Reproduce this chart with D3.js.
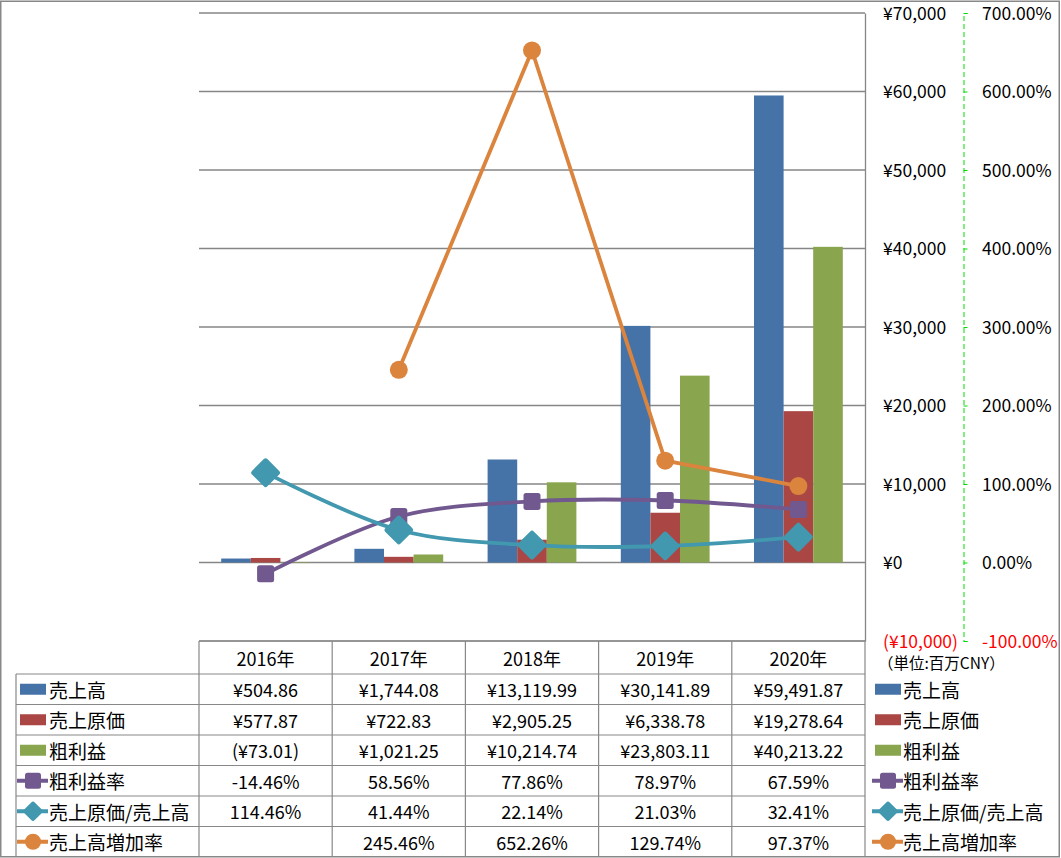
<!DOCTYPE html>
<html><head><meta charset="utf-8">
<script src="https://cdn.jsdelivr.net/npm/d3@7/dist/d3.min.js"></script>
<style>
html,body{margin:0;padding:0;background:#fff;}
svg{display:block;font-family:"Noto Sans CJK JP","Noto Sans",sans-serif;}
</style></head><body>
<svg id="chart" width="1061" height="858"></svg>
<script>
const years = ["2016年","2017年","2018年","2019年","2020年"];
const barSeries = ["売上高","売上原価","粗利益"];
const sales = [504.86, 1744.08, 13119.99, 30141.89, 59491.87];
const cost = [577.87, 722.83, 2905.25, 6338.78, 19278.64];
const gross = [-73.01, 1021.25, 10214.74, 23803.11, 40213.22];
const lineSeries = ["粗利益率","売上原価/売上高","売上高増加率"];
const grossMargin = [-14.46, 58.56, 77.86, 78.97, 67.59];
const costRatio = [114.46, 41.44, 22.14, 21.03, 32.41];
const salesGrowth = [null, 245.46, 652.26, 129.74, 97.37];
const yTicks = [-10000,0,10000,20000,30000,40000,50000,60000,70000];
const y2Ticks = [-100,0,100,200,300,400,500,600,700];
const unitLabel = "（単位:百万CNY）";

const barColors = ["#4572A7","#AA4643","#89A54E"];
const lineColors = ["#71588F","#4198AF","#DB843D"];
const markerShapes = ["square","diamond","circle"];

const FS = 18, FSJ = 19, FSA = 17.5;
const svg = d3.select("#chart");
const L = 199, R = 865, T = 13, B = 641;
const tableRows = [674, 704.5, 735, 765.5, 796, 826.5, 857];

const x = d3.scaleBand().domain(years).range([L, R]);
const bw = x.bandwidth();
const xb = d3.scaleBand().domain(barSeries).range([bw/6, bw*5/6]);
const y = d3.scaleLinear().domain([-10000,70000]).range([B, T]);
const y2 = d3.scaleLinear().domain([-100,700]).range([B, T]);

// outer border
svg.append("rect").attr("x",0.75).attr("y",1.25).attr("width",1058.5).attr("height",855.5)
  .attr("fill","none").attr("stroke","#888").attr("stroke-width",1.5);

// gridlines
svg.append("g").selectAll("line").data(yTicks).join("line")
  .attr("x1",L).attr("x2",R).attr("y1",d=>y(d)).attr("y2",d=>y(d))
  .attr("stroke","#868686").attr("stroke-width",1.3);

// primary axis (right side of plot)
const yAxis = d3.axisRight(y).tickValues(yTicks).tickSize(0).tickPadding(0)
  .tickFormat(d => d < 0 ? "(¥" + d3.format(",")(-d) + ")" : "¥" + d3.format(",")(d));
const gy = svg.append("g").attr("transform",`translate(${R},0)`).call(yAxis);
gy.select(".domain").attr("stroke","#868686").attr("stroke-width",1.3);
gy.selectAll("text").attr("x",18).attr("font-size",FSA).attr("dy","0.35em")
  .attr("font-family",'"Noto Sans CJK JP",sans-serif')
  .attr("fill",d=> d<0 ? "#FF0000" : "#000");

// secondary axis
const y2Axis = d3.axisRight(y2).tickValues(y2Ticks).tickSize(4).tickPadding(0)
  .tickFormat(d => d3.format(".2f")(d).replace("−","-") + "%");
const gy2 = svg.append("g").attr("transform",`translate(963.5,0)`).call(y2Axis);
gy2.select(".domain").attr("stroke","#00DD00").attr("stroke-dasharray","5,3").attr("stroke-width",1);
gy2.selectAll(".tick line").attr("stroke","#00DD00");
gy2.selectAll("text").attr("x",18.5).attr("font-size",FSA).attr("dy","0.35em")
  .attr("font-family",'"Noto Sans CJK JP",sans-serif')
  .attr("fill",d=> d<0 ? "#FF0000" : "#000");

// bars
const barData = [sales, cost, gross];
barData.forEach((vals, si) => {
  svg.append("g").selectAll("rect").data(vals).join("rect")
    .attr("x",(d,i)=> x(years[i]) + xb(barSeries[si]))
    .attr("width", xb.bandwidth())
    .attr("y", d => Math.min(y(d), y(0)))
    .attr("height", d => Math.abs(y(d) - y(0)))
    .attr("fill", barColors[si]);
});

// lines
const lineData = [grossMargin, costRatio, salesGrowth];
const curves = [d3.curveCatmullRom.alpha(0.5), d3.curveCatmullRom.alpha(0.5), d3.curveLinear];
function drawMarker(g, shape, cx, cy, color, s) {
  if (shape === "square") {
    g.append("rect").attr("x",cx-s/2).attr("y",cy-s/2).attr("width",s).attr("height",s)
      .attr("rx",2.5).attr("fill",color);
  } else if (shape === "diamond") {
    const h = s*0.68;
    g.append("rect").attr("x",cx-h).attr("y",cy-h).attr("width",2*h).attr("height",2*h)
      .attr("rx",2.5).attr("fill",color)
      .attr("transform",`rotate(45 ${cx} ${cy})`);
  } else {
    g.append("circle").attr("cx",cx).attr("cy",cy).attr("r",s/2).attr("fill",color);
  }
}
lineData.forEach((vals, si) => {
  const pts = vals.map((v,i)=>({v, i})).filter(p => p.v !== null);
  const line = d3.line().x(p => x(years[p.i]) + bw/2).y(p => y2(p.v)).curve(curves[si]);
  const g = svg.append("g");
  g.append("path").attr("d", line(pts)).attr("fill","none")
    .attr("stroke", lineColors[si]).attr("stroke-width",3.8).attr("stroke-linejoin","round");
  pts.forEach(p => drawMarker(g, markerShapes[si], x(years[p.i]) + bw/2, y2(p.v), lineColors[si], si===1 ? 16 : (si===0 ? 17 : 18)));
});

// data table
const tg = svg.append("g").attr("stroke","#888").attr("stroke-width",1.2);
tg.append("line").attr("x1",L).attr("x2",R).attr("y1",B).attr("y2",B);
tableRows.slice(0,6).forEach(ry => tg.append("line").attr("x1",16).attr("x2",R).attr("y1",ry).attr("y2",ry));
const colEdges = years.map(d => x(d)).concat([R]);
colEdges.forEach(cx => tg.append("line").attr("x1",cx).attr("x2",cx).attr("y1",B).attr("y2",857));
tg.append("line").attr("x1",16).attr("x2",16).attr("y1",tableRows[0]).attr("y2",857);

// header text
svg.append("g").selectAll("text").data(years).join("text")
  .attr("x", d => x(d) + bw/2).attr("y", (B + tableRows[0])/2)
  .attr("text-anchor","middle").attr("dominant-baseline","central")
  .attr("font-size",FS).attr("fill","#000").text(d => d);

const fmtCur = d => d < 0 ? "(¥" + d3.format(",.2f")(-d) + ")" : "¥" + d3.format(",.2f")(d);
const fmtPct = d => d === null ? "" : d3.format(".2f")(d).replace("−","-") + "%";
const rows = [
  {name: barSeries[0], vals: sales, fmt: fmtCur, type:"bar", color: barColors[0]},
  {name: barSeries[1], vals: cost, fmt: fmtCur, type:"bar", color: barColors[1]},
  {name: barSeries[2], vals: gross, fmt: fmtCur, type:"bar", color: barColors[2]},
  {name: lineSeries[0], vals: grossMargin, fmt: fmtPct, type:"square", color: lineColors[0]},
  {name: lineSeries[1], vals: costRatio, fmt: fmtPct, type:"diamond", color: lineColors[1]},
  {name: lineSeries[2], vals: salesGrowth, fmt: fmtPct, type:"circle", color: lineColors[2]},
];

function legendKey(g, r, kx, cy) {
  if (r.type === "bar") {
    g.append("rect").attr("x",kx).attr("y",cy-5.5).attr("width",26).attr("height",11).attr("fill",r.color);
  } else {
    g.append("line").attr("x1",kx-3).attr("x2",kx+28).attr("y1",cy).attr("y2",cy)
      .attr("stroke",r.color).attr("stroke-width",4);
    const s = r.type === "diamond" ? 11 : 16;
    drawMarker(g, r.type, kx+13, cy, r.color, s);
  }
}

rows.forEach((r, ri) => {
  const cy = (tableRows[ri] + tableRows[ri+1]) / 2;
  const g = svg.append("g");
  legendKey(g, r, 20, cy);
  g.append("text").attr("x",49).attr("y",cy).attr("dominant-baseline","central")
    .attr("font-size",FSJ).attr("fill","#000").text(r.name);
  r.vals.forEach((v,i) => {
    g.append("text").attr("x", x(years[i]) + bw/2).attr("y", cy)
      .attr("text-anchor","middle").attr("dominant-baseline","central")
      .attr("font-size",FS).attr("fill","#000").text(r.fmt(v));
  });
  legendKey(g, r, 875, cy);
  g.append("text").attr("x",903).attr("y",cy).attr("dominant-baseline","central")
    .attr("font-size",FSJ).attr("fill","#000").text(r.name);
});

svg.append("text").attr("x",878).attr("y",662).attr("dominant-baseline","central")
  .attr("font-size",15.5).attr("fill","#000").text(unitLabel);
</script>
</body></html>
